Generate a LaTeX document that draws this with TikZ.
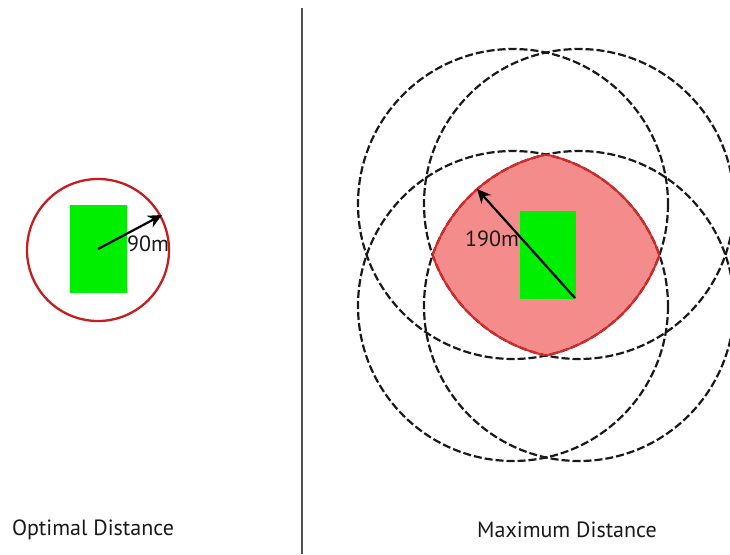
\documentclass[tikz,border=0pt]{standalone}
\usepackage{fontspec}
\setmainfont{PT Sans}
\usetikzlibrary{arrows.meta}
\definecolor{grn}{RGB}{0,238,0}
\definecolor{dred}{RGB}{196,30,30}
\definecolor{lred}{RGB}{222,40,40}
\definecolor{pink}{RGB}{244,140,140}
\definecolor{divider}{RGB}{80,80,80}
\tikzset{
  dcirc/.style={draw=black!90, line width=2.2pt, dash pattern=on 8pt off 3pt},
  field/.style={fill=grn, draw=none},
  radarrow/.style={line width=2.2pt, -{Stealth[length=14pt,width=13pt]}},
  lbl/.style={font=\fontsize{22}{26}\selectfont, inner sep=0pt, text=black!90},
  caption/.style={font=\fontsize{22}{26}\selectfont, inner sep=0pt, text=black!90}
}
\begin{document}
\begin{tikzpicture}[x=1pt,y=-1pt]
\useasboundingbox (0,0) rectangle (730,554);
\clip (0,0) rectangle (730,554);
\fill[white] (0,0) rectangle (730,554);
% divider
\coordinate (dtop) at (302,8);
\coordinate (dbot) at (302,554);
\draw[divider, line width=1.6pt] (dtop) -- (dbot);
% left panel
\coordinate (lc) at (98,250);
\fill[field] (70,205) rectangle (127,293);
\draw[dred, line width=2.3pt] (lc) circle (71);
\coordinate (lc0) at (98,249);
\coordinate (lt) at (162,215);
\draw[radarrow] (lc0) -- (lt);
\node[lbl] (l90) at (148,244) {90m};
% right panel
\coordinate (TL) at (513,204);
\coordinate (TR) at (579,204);
\coordinate (BL) at (513,306);
\coordinate (BR) at (579,306);
\def\R{155}
\begin{scope}
  \clip (TL) circle (\R); \clip (TR) circle (\R); \clip (BL) circle (\R);
  \fill[pink] (BR) circle (\R);
\end{scope}
\fill[field] (520,211) rectangle (576,299);
\draw[dcirc] (TL) circle (\R);
\draw[dcirc] (TR) circle (\R);
\draw[dcirc] (BL) circle (\R);
\draw[dcirc] (BR) circle (\R);
\begin{scope}
  \clip (TR) circle (\R); \clip (BL) circle (\R); \clip (BR) circle (\R);
  \draw[lred, line width=2pt] (TL) circle (\R);
\end{scope}
\begin{scope}
  \clip (TL) circle (\R); \clip (BL) circle (\R); \clip (BR) circle (\R);
  \draw[lred, line width=2pt] (TR) circle (\R);
\end{scope}
\begin{scope}
  \clip (TL) circle (\R); \clip (TR) circle (\R); \clip (BR) circle (\R);
  \draw[lred, line width=2pt] (BL) circle (\R);
\end{scope}
\begin{scope}
  \clip (TL) circle (\R); \clip (TR) circle (\R); \clip (BL) circle (\R);
  \draw[lred, line width=2pt] (BR) circle (\R);
\end{scope}
\coordinate (rc0) at (575,298);
\coordinate (rt) at (477,189);
\draw[radarrow] (rc0) -- (rt);
\node[lbl] (l190) at (492,239) {190m};
% captions
\node[caption] (cap1) at (93,530) {Optimal Distance};
\node[caption] (cap2) at (567,530) {Maximum Distance};
\end{tikzpicture}
\end{document}
